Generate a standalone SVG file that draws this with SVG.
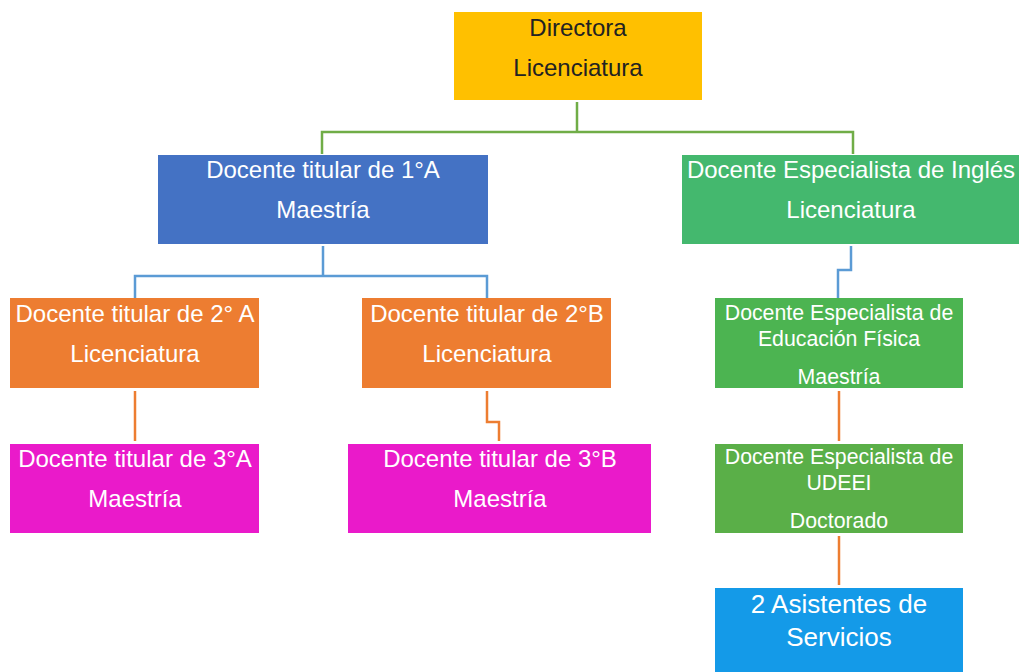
<svg xmlns="http://www.w3.org/2000/svg" width="1019" height="672" viewBox="0 0 1019 672">
<style>
text{font-family:"Liberation Sans",Arial,sans-serif;fill:#fff;text-anchor:middle}
.t{font-size:24px}
.s{font-size:21.3px}
.b{font-size:26px}
.c{fill:none;stroke-width:2.5}
.g{stroke:#70AD47}
.bl{stroke:#5B9BD5}
.o{stroke:#ED7D31}
</style>
<rect width="1019" height="672" fill="#fff"/>
<g id="connectors">
<path class="c g" d="M577,102V132M322,154V132H853V154"/>
<path class="c bl" d="M323,246V276M135,298V276H487V298"/>
<path class="c bl" d="M851,246V270H838V298"/>
<path class="c o" d="M135,391V441"/>
<path class="c o" d="M487,391V422H499V441"/>
<path class="c o" d="M839,391V441"/>
<path class="c o" d="M839,536V585"/>
</g>
<g id="directora"><rect x="454" y="12" width="248" height="88" fill="#FFC000"/><text class="t" x="578" y="36" style="fill:#222">Directora</text><text class="t" x="578" y="76" style="fill:#222">Licenciatura</text></g>
<g id="titular1a"><rect x="158" y="155" width="330" height="89" fill="#4472C4"/><text class="t" x="323" y="178">Docente titular de 1°A</text><text class="t" x="323" y="218">Maestría</text></g>
<g id="ingles"><rect x="682" y="155" width="337" height="89" fill="#44B86E"/><text class="t" x="851" y="178">Docente Especialista de Inglés</text><text class="t" x="851" y="218">Licenciatura</text></g>
<g id="titular2a"><rect x="10" y="298" width="249" height="90" fill="#ED7D31"/><text class="t" x="135" y="322">Docente titular de 2° A</text><text class="t" x="135" y="362">Licenciatura</text></g>
<g id="titular2b"><rect x="362" y="298" width="249" height="90" fill="#ED7D31"/><text class="t" x="487" y="322">Docente titular de 2°B</text><text class="t" x="487" y="362">Licenciatura</text></g>
<g id="edfisica"><rect x="715" y="298" width="248" height="90" fill="#4CB451"/><text class="s" x="839" y="320">Docente Especialista de</text><text class="s" x="839" y="346">Educación Física</text><text class="s" x="839" y="384">Maestría</text></g>
<g id="titular3a"><rect x="10" y="444" width="249" height="89" fill="#EA1ACA"/><text class="t" x="135" y="467">Docente titular de 3°A</text><text class="t" x="135" y="507">Maestría</text></g>
<g id="titular3b"><rect x="348" y="444" width="303" height="89" fill="#EA1ACA"/><text class="t" x="500" y="467">Docente titular de 3°B</text><text class="t" x="500" y="507">Maestría</text></g>
<g id="udeei"><rect x="715" y="444" width="248" height="89" fill="#5AAF48"/><text class="s" x="839" y="464">Docente Especialista de</text><text class="s" x="839" y="490">UDEEI</text><text class="s" x="839" y="528">Doctorado</text></g>
<g id="asistentes"><rect x="715" y="588" width="248" height="84" fill="#149AE8"/><text class="b" x="839" y="613">2 Asistentes de</text><text class="b" x="839" y="646">Servicios</text></g>
</svg>
